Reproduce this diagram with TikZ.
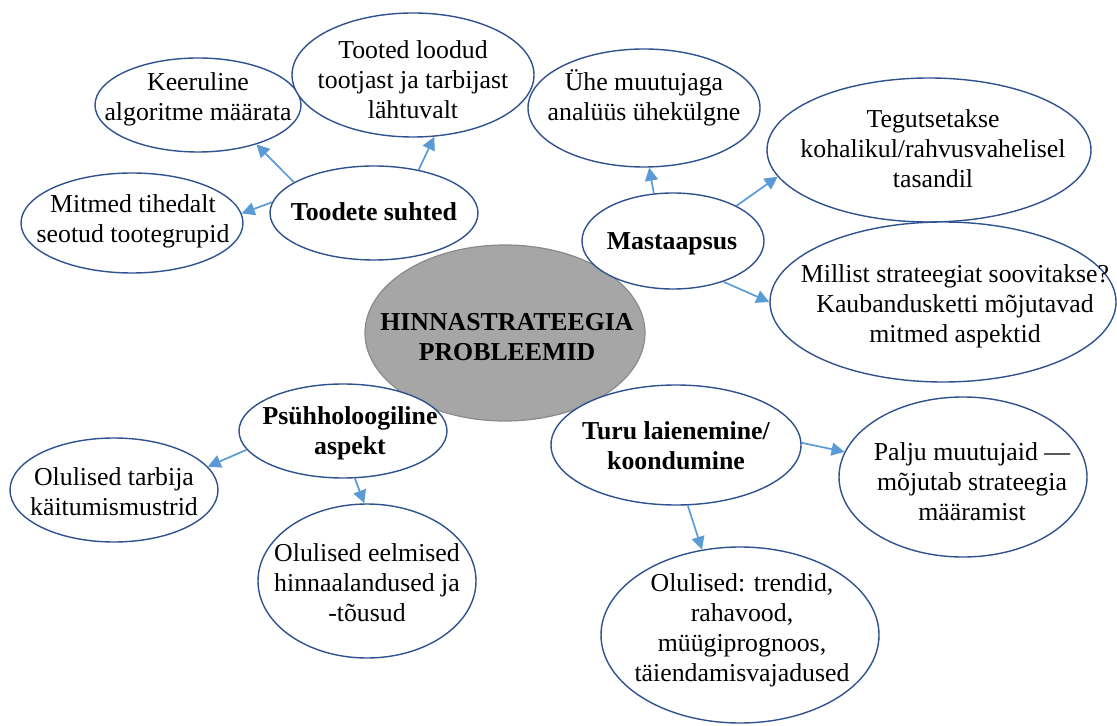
\documentclass[tikz,border=0pt]{standalone}
\usepackage{fontspec}
\setmainfont{Liberation Serif}
\usetikzlibrary{shapes.geometric,arrows.meta}
\definecolor{ellline}{HTML}{2F528F}
\definecolor{arrblue}{HTML}{5B9BD5}
\definecolor{centerfill}{HTML}{A6A6A6}
\definecolor{centerline}{HTML}{8A8A8A}
\tikzset{
  bubble/.style={ellipse, draw=ellline, line width=0.7pt, fill=white, inner sep=0pt},
  hub/.style={ellipse, draw=centerline, line width=0.6pt, fill=centerfill, inner sep=0pt},
  txt/.style={align=center, inner sep=0pt, font=\fontsize{12.9}{15}\selectfont},
  btxt/.style={txt, font=\fontsize{12.9}{15}\selectfont\bfseries},
  arr/.style={draw=arrblue, line width=0.85pt, -{Triangle[length=6.5pt,width=6.5pt]}, fill=arrblue}
}
\begin{document}
\begin{tikzpicture}[x=0.5pt,y=-0.5pt]
\useasboundingbox (0,0) rectangle (1117,726);
% hub
\node[hub, minimum width=140pt, minimum height=88pt] (hub) at (505,333) {};
\node[btxt] (thub) at (507,337) {HINNASTRATEEGIA\\PROBLEEMID};
% categories and leaves
\node[bubble, minimum width=104pt, minimum height=47pt] (tood) at (374,213) {};
\node[bubble, minimum width=103pt, minimum height=47pt] (keer) at (198,105) {};
\node[bubble, minimum width=121pt, minimum height=62pt] (toot) at (413,75) {};
\node[bubble, minimum width=111pt, minimum height=50pt] (mitm) at (132,223) {};
\node[bubble, minimum width=116pt, minimum height=59pt] (uhe) at (644,108) {};
\node[bubble, minimum width=162pt, minimum height=72pt] (tegu) at (929,150) {};
\node[bubble, minimum width=91pt, minimum height=48pt] (mast) at (673,241) {};
\node[bubble, minimum width=173pt, minimum height=80pt] (mill) at (943,302) {};
\node[bubble, minimum width=104pt, minimum height=47pt] (psuh) at (343,431) {};
\node[bubble, minimum width=104pt, minimum height=52pt] (tarb) at (114,490) {};
\node[bubble, minimum width=109pt, minimum height=77pt] (eelm) at (367,581) {};
\node[bubble, minimum width=125pt, minimum height=60pt] (turu) at (676,445) {};
\node[bubble, minimum width=124pt, minimum height=80pt] (palj) at (963,477) {};
\node[bubble, minimum width=139pt, minimum height=88pt] (trend) at (740,635) {};
% texts
\node[btxt] (ttood) at (374,212) {Toodete suhted};
\node[txt] (tkeer) at (198,99) {Keeruline\\algoritme määrata};
\node[txt] (ttoot) at (413,80) {Tooted loodud\\tootjast ja tarbijast\\lähtuvalt};
\node[txt] (tmitm) at (133,221) {Mitmed tihedalt\\seotud tootegrupid};
\node[txt] (tuhe) at (644,98) {Ühe muutujaga\\analüüs ühekülgne};
\node[txt] (ttegu) at (933,149) {Tegutsetakse\\kohalikul/rahvusvahelisel\\tasandil};
\node[btxt] (tmast) at (672,244) {Mastaapsus};
\node[txt] (tmill) at (955,306) {Millist strateegiat soovitakse?\\Kaubandusketti mõjutavad\\mitmed aspektid};
\node[btxt] (tpsuh) at (350,433) {Psühholoogiline\\aspekt};
\node[txt] (ttarb) at (114,492) {Olulised tarbija\\käitumismustrid};
\node[txt] (teelm) at (367,583) {Olulised eelmised\\hinnaalandused ja\\-tõusud};
\node[btxt] (tturu) at (676,446) {Turu laienemine/\\koondumine};
\node[txt] (tpalj) at (972,482) {Palju muutujaid —\\mõjutab strateegia\\määramist};
\node[txt] (ttrend) at (742,630) {Olulised: trendid,\\rahavood,\\müügiprognoos,\\täiendamisvajadused};
% arrows
\draw[arr] (tood.159.5) -- (keer.-34);
\draw[arr] (tood.44) -- (toot.-71);
\draw[arr] (tood.174) -- (mitm.5);
\draw[arr] (mast.112) -- (uhe.-85);
\draw[arr] (mast.29) -- (tegu.-170);
\draw[arr] (mast.-39) -- (mill.180);
\draw[arr] (psuh.-169) -- (tarb.14);
\draw[arr] (psuh.-76) -- (eelm.92);
\draw[arr] (turu.1) -- (palj.168);
\draw[arr] (turu.-79) -- (trend.114);
\end{tikzpicture}
\end{document}
